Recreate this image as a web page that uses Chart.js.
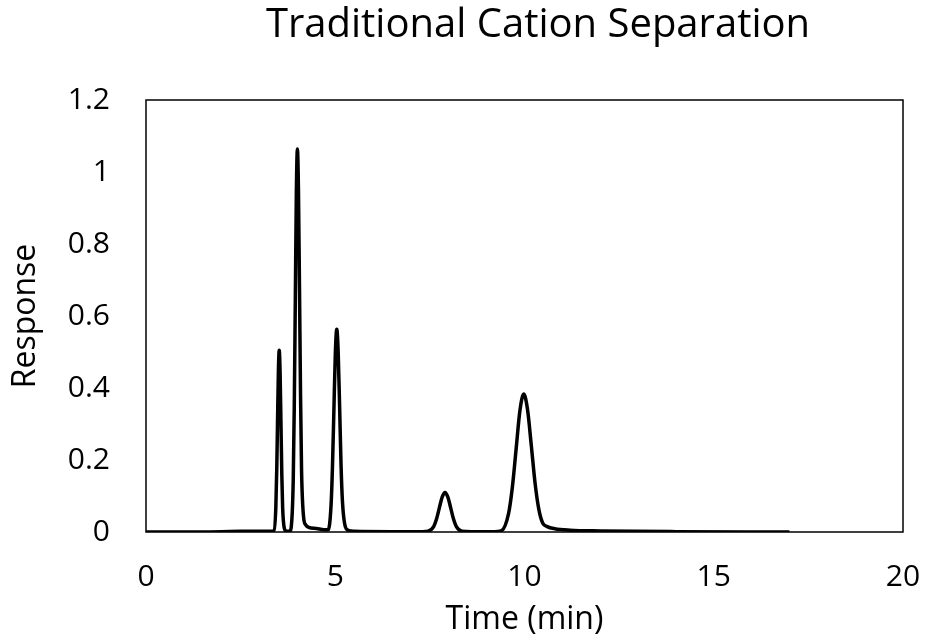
<!DOCTYPE html>
<html>
<head>
<meta charset="utf-8">
<script src="https://cdn.jsdelivr.net/npm/chart.js@4"></script>
<style>
    html, body { margin: 0; padding: 0; background: #fff; }
    #wrap { width: 925px; height: 644px; }
</style>
</head>
<body>
<div id="wrap"><canvas id="myChart" width="925" height="644"></canvas></div>
<script>
// 크로마토그램 데이터
const timeMin = [
    0, 1, 2, 2.5, 3, 3.3, 3.38, 3.43, 3.455, 3.475, 3.4975, 3.52, 3.5425, 3.565, 3.588, 3.61, 3.655, 3.7, 3.75,
    3.8, 3.835, 3.89, 3.917, 3.945, 3.972, 4.0, 4.028, 4.055, 4.083, 4.11, 4.165, 4.22, 4.3, 4.5, 4.7,
    4.815, 4.89, 4.927, 4.965, 5.0025, 5.04, 5.0775, 5.115, 5.152, 5.19, 5.265, 5.34, 5.5, 6.5,
    7.3, 7.45, 7.6, 7.675, 7.75, 7.825, 7.9, 7.975, 8.05, 8.125, 8.2, 8.35, 8.6,
    9.2, 9.38, 9.58, 9.68, 9.78, 9.88, 9.98, 10.08, 10.18, 10.28, 10.38, 10.48, 10.6, 10.8, 11.2, 12, 14, 17,
];
const response = [
    0, 0, 0.001, 0.002, 0.002, 0.002, 0.004, 0.068, 0.177, 0.307, 0.445, 0.505, 0.445, 0.307, 0.16, 0.068, 0.01, 0.003, 0.002,
    0.003, 0.012, 0.144, 0.346, 0.646, 0.94, 1.064, 0.95, 0.68, 0.38, 0.17, 0.04, 0.02, 0.013, 0.01, 0.006,
    0.006, 0.076, 0.183, 0.342, 0.497, 0.563, 0.5, 0.35, 0.19, 0.085, 0.015, 0.005, 0.002, 0.001,
    0.001, 0.002, 0.015, 0.036, 0.067, 0.097, 0.11, 0.097, 0.067, 0.036, 0.015, 0.002, 0.001,
    0.001, 0.003, 0.052, 0.125, 0.232, 0.338, 0.383, 0.34, 0.24, 0.135, 0.062, 0.025, 0.015, 0.009, 0.005, 0.003, 0.001, 0,
];
const xTickLabels = ['0', '5', '10', '15', '20'];
const yTickLabels = ['0', '0.2', '0.4', '0.6', '0.8', '1', '1.2'];

const FONT = "'Open Sans', sans-serif";
const TITLE_CENTER_X = 538;

// 플롯 영역 테두리
const frameBox = {
    id: 'frameBox',
    afterDraw(chart) {
        const { ctx, chartArea } = chart;
        ctx.save();
        ctx.strokeStyle = '#000';
        ctx.lineWidth = 1.5;
        ctx.strokeRect(chartArea.left, chartArea.top, chartArea.right - chartArea.left, chartArea.bottom - chartArea.top);
        ctx.restore();
    },
};

// 제목 위치를 살짝 오른쪽으로
const titleShift = {
    id: 'titleShift',
    afterLayout(chart) {
        const tb = chart.titleBlock;
        if (!tb) return;
        const w = tb.right - tb.left;
        tb.left = TITLE_CENTER_X - w / 2;
        tb.right = TITLE_CENTER_X + w / 2;
    },
};

const points = timeMin.map((t, i) => ({ x: t, y: response[i] }));

const ctx = document.getElementById('myChart').getContext('2d');
const myChart = new Chart(ctx, {
    type: 'line',
    data: {
        datasets: [
            {
                label: 'Response',
                data: points,
                borderColor: '#000',
                borderWidth: 3.5,
                pointRadius: 0,
                cubicInterpolationMode: 'monotone',
                fill: false,
            },
        ],
    },
    options: {
        responsive: false,
        animation: false,
        layout: { padding: { left: 0, right: 22, top: 0, bottom: 0 } },
        plugins: {
            legend: { display: false },
            tooltip: { enabled: false },
            title: {
                display: true,
                text: 'Traditional Cation Separation',
                color: '#000',
                font: { family: FONT, size: 40, weight: 'normal', lineHeight: 1.2 },
                padding: { top: 2, bottom: 50 },
            },
        },
        scales: {
            x: {
                type: 'linear',
                min: 0,
                max: 20,
                afterFit(scale) {
                    scale.height = 112;
                    scale.paddingLeft = 0;
                    scale.paddingRight = 0;
                },
                afterBuildTicks(scale) {
                    scale.ticks = xTickLabels.map((l) => ({ value: Number(l) }));
                },
                ticks: {
                    color: '#000',
                    font: { family: FONT, size: 30 },
                    padding: 27,
                    maxRotation: 0,
                    callback: (v, i) => xTickLabels[i],
                },
                grid: { display: false, drawTicks: false },
                border: { display: false },
                title: {
                    display: true,
                    text: 'Time (min)',
                    color: '#000',
                    font: { family: FONT, size: 32 },
                    padding: { top: 0, bottom: 5 },
                },
            },
            y: {
                min: 0,
                max: 1.2,
                afterFit(scale) {
                    scale.width = 146;
                },
                afterBuildTicks(scale) {
                    scale.ticks = yTickLabels.map((l) => ({ value: Number(l) }));
                },
                ticks: {
                    color: '#000',
                    font: { family: FONT, size: 30 },
                    padding: 36,
                    callback: (v, i) => yTickLabels[i],
                },
                grid: { display: false, drawTicks: false },
                border: { display: false },
                title: {
                    display: true,
                    text: 'Response',
                    color: '#000',
                    font: { family: FONT, size: 32 },
                    padding: { top: 7, bottom: 0 },
                },
            },
        },
    },
    plugins: [frameBox, titleShift],
});
</script>
</body>
</html>
